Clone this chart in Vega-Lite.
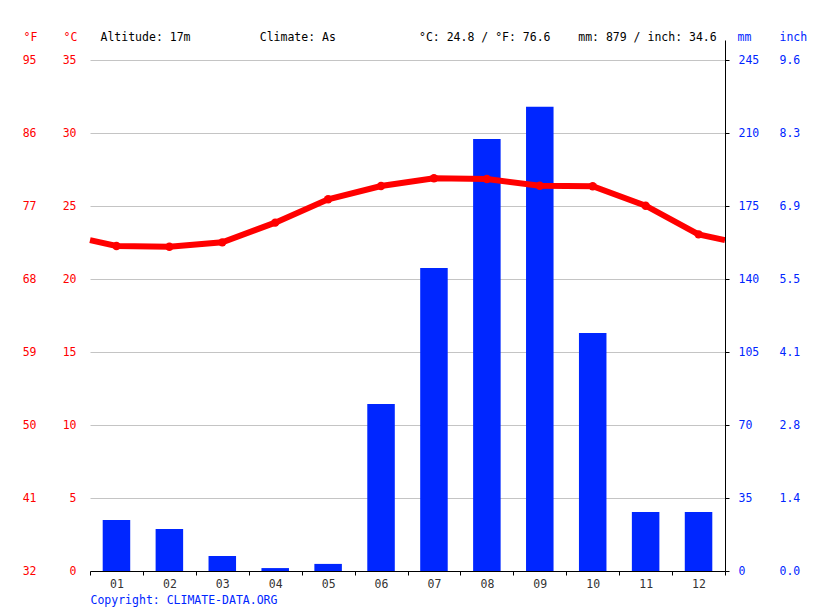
{
  "$schema": "https://vega.github.io/schema/vega-lite/v6.json",
  "width": 635,
  "height": 531,
  "autosize": {"type": "none"},
  "padding": {"left": 90, "top": 40, "right": 90, "bottom": 40},
  "background": "white",
  "config": {
    "font": "DejaVu Sans Mono",
    "view": {"stroke": null},
    "axis": {
      "labelFont": "DejaVu Sans Mono",
      "titleFont": "DejaVu Sans Mono",
      "labelFontSize": 11.5,
      "titleFontSize": 11.5,
      "titleFontWeight": "normal"
    }
  },
  "datasets": {
    "monthly": [
      {"month": "01", "m": 1, "temp": 22.26, "precip": 24.5},
      {"month": "02", "m": 2, "temp": 22.21, "precip": 20.1},
      {"month": "03", "m": 3, "temp": 22.51, "precip": 7.2},
      {"month": "04", "m": 4, "temp": 23.86, "precip": 1.4},
      {"month": "05", "m": 5, "temp": 25.46, "precip": 3.4},
      {"month": "06", "m": 6, "temp": 26.37, "precip": 80.1},
      {"month": "07", "m": 7, "temp": 26.9, "precip": 145.3},
      {"month": "08", "m": 8, "temp": 26.85, "precip": 207.1},
      {"month": "09", "m": 9, "temp": 26.39, "precip": 222.6},
      {"month": "10", "m": 10, "temp": 26.35, "precip": 114.1},
      {"month": "11", "m": 11, "temp": 25.02, "precip": 28.3},
      {"month": "12", "m": 12, "temp": 23.06, "precip": 28.3}
    ],
    "tempLine": [
      {"m": 0.5, "temp": 22.66},
      {"m": 1, "temp": 22.26},
      {"m": 2, "temp": 22.21},
      {"m": 3, "temp": 22.51},
      {"m": 4, "temp": 23.86},
      {"m": 5, "temp": 25.46},
      {"m": 6, "temp": 26.37},
      {"m": 7, "temp": 26.9},
      {"m": 8, "temp": 26.85},
      {"m": 9, "temp": 26.39},
      {"m": 10, "temp": 26.35},
      {"m": 11, "temp": 25.02},
      {"m": 12, "temp": 23.06},
      {"m": 12.5, "temp": 22.66}
    ]
  },
  "layer": [
    {
      "data": {"name": "monthly"},
      "mark": {"type": "bar", "color": "#0026ff", "width": {"band": 0.52}},
      "encoding": {
        "x": {
          "field": "month", "type": "ordinal",
          "scale": {"paddingInner": 0, "paddingOuter": 0},
          "axis": {
            "orient": "bottom", "tickBand": "extent", "ticks": true, "tickSize": 4,
            "tickColor": "#000", "domainColor": "#000", "labelColor": "#333",
            "labelPadding": 3, "labelAngle": 0, "grid": false, "zindex": 1,
            "title": "Copyright: CLIMATE-DATA.ORG", "titleColor": "#0026ff",
            "titleAlign": "left", "titleX": 0, "titleY": 32, "titleBaseline": "alphabetic"
          }
        },
        "y": {
          "field": "precip", "type": "quantitative",
          "scale": {"domain": [0, 254.6], "nice": false, "zero": true},
          "axis": {
            "orient": "right", "values": [0, 35, 70, 105, 140, 175, 210, 245],
            "grid": false, "domain": true, "domainColor": "#000", "ticks": true,
            "tickSize": 4, "tickColor": "#000", "labelColor": "#0026ff", "labelPadding": 9,
            "zindex": 1,
            "title": "mm", "titleAngle": 0, "titleX": 12, "titleY": 0,
            "titleAlign": "left", "titleBaseline": "alphabetic", "titleColor": "#0026ff"
          }
        }
      }
    },
    {
      "data": {"name": "monthly"},
      "mark": {"type": "bar", "opacity": 0, "width": {"band": 0.52}},
      "encoding": {
        "x": {"field": "month", "type": "ordinal", "scale": {"paddingInner": 0, "paddingOuter": 0}, "axis": null},
        "y": {
          "field": "precip", "type": "quantitative",
          "scale": {"domain": [0, 254.6], "nice": false, "zero": true},
          "axis": {
            "orient": "right", "offset": 41, "values": [0, 35, 70, 105, 140, 175, 210, 245],
            "labelExpr": "format(datum.value / 25.4, '.1f')",
            "grid": false, "domain": false, "ticks": false, "labelPadding": 13,
            "labelColor": "#0026ff",
            "title": "inch", "titleAngle": 0, "titleX": 13, "titleY": 0,
            "titleAlign": "left", "titleBaseline": "alphabetic", "titleColor": "#0026ff"
          }
        }
      }
    },
    {
      "data": {"name": "tempLine"},
      "mark": {"type": "line", "color": "#ff0000", "strokeWidth": 6},
      "encoding": {
        "x": {
          "field": "m", "type": "quantitative",
          "scale": {"domain": [0.5, 12.5], "nice": false, "zero": false},
          "axis": {
            "orient": "top", "labels": false, "ticks": false, "domain": false, "grid": false,
            "title": "Altitude: 17m\u00a0\u00a0\u00a0\u00a0\u00a0\u00a0\u00a0\u00a0\u00a0\u00a0Climate: As\u00a0\u00a0\u00a0\u00a0\u00a0\u00a0\u00a0\u00a0\u00a0\u00a0\u00a0\u00a0°C: 24.8 / °F: 76.6\u00a0\u00a0\u00a0\u00a0mm: 879 / inch: 34.6",
            "titleX": 10, "titleY": 0, "titleAlign": "left", "titleBaseline": "alphabetic",
            "titleColor": "#000"
          }
        },
        "y": {
          "field": "temp", "type": "quantitative",
          "scale": {"domain": [0, 36.37], "nice": false, "zero": true},
          "axis": {
            "orient": "left", "values": [0, 5, 10, 15, 20, 25, 30, 35],
            "grid": true, "gridColor": "#c4c4c4", "gridWidth": 1,
            "domain": false, "ticks": false, "labelPadding": 14, "labelColor": "#ff0000",
            "title": "°C", "titleAngle": 0, "titleX": -20, "titleY": 0,
            "titleAlign": "center", "titleBaseline": "alphabetic", "titleColor": "#ff0000"
          }
        }
      }
    },
    {
      "data": {"name": "monthly"},
      "mark": {"type": "point", "filled": true, "color": "#ff0000", "size": 70, "opacity": 1},
      "encoding": {
        "x": {
          "field": "m", "type": "quantitative",
          "scale": {"domain": [0.5, 12.5], "nice": false, "zero": false},
          "axis": null
        },
        "y": {
          "field": "temp", "type": "quantitative",
          "scale": {"domain": [0, 36.37], "nice": false, "zero": true},
          "axis": {
            "orient": "left", "offset": 40, "values": [0, 5, 10, 15, 20, 25, 30, 35],
            "labelExpr": "format(datum.value * 9 / 5 + 32, 'd')",
            "grid": false, "domain": false, "ticks": false, "labelPadding": 14,
            "labelColor": "#ff0000",
            "title": "°F", "titleAngle": 0, "titleX": -20, "titleY": 0,
            "titleAlign": "center", "titleBaseline": "alphabetic", "titleColor": "#ff0000"
          }
        }
      }
    }
  ],
  "resolve": {
    "scale": {"x": "independent", "y": "independent"},
    "axis": {"x": "independent", "y": "independent"}
  }
}
